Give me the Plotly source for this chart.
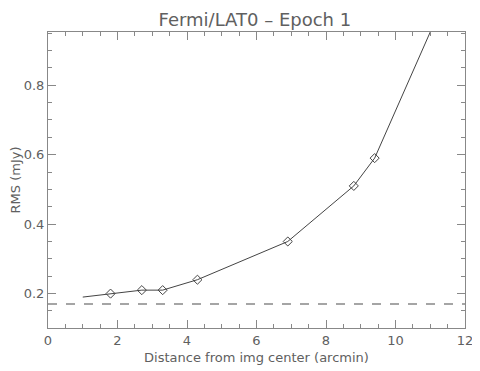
import plotly.graph_objects as go

# RMS vs distance from image centre
dist_line = [1.0, 1.8, 2.7, 3.3, 4.3, 6.9, 8.8, 9.4, 11.0]
rms_line = [0.19, 0.20, 0.21, 0.21, 0.24, 0.35, 0.51, 0.59, 0.953]
dist_pts = [1.8, 2.7, 3.3, 4.3, 6.9, 8.8, 9.4]
rms_pts = [0.20, 0.21, 0.21, 0.24, 0.35, 0.51, 0.59]
floor_x = [0, 12]
floor_y = [0.17, 0.17]

INK = '#606060'
FONT = 'DejaVu Sans'

fig = go.Figure()
fig.add_trace(go.Scatter(x=floor_x, y=floor_y, mode='lines',
                         line=dict(color='#888888', width=1.5, dash='dash')))
fig.add_trace(go.Scatter(x=dist_line, y=rms_line, mode='lines',
                         line=dict(color='#444444', width=1)))
fig.add_trace(go.Scatter(x=dist_pts, y=rms_pts, mode='markers',
                         marker=dict(symbol='diamond-open', size=7,
                                     color='#444444', line=dict(width=1))))

axis_common = dict(showgrid=False, zeroline=False, showline=True, mirror='allticks',
                   linecolor='#888888', linewidth=1, ticks='inside', ticklen=8,
                   tickcolor='#888888', automargin=False, ticklabeloverflow='allow',
                   tickfont=dict(family=FONT, size=13, color=INK))

fig.update_xaxes(range=[0, 12], dtick=2,
                 minor=dict(dtick=0.5, ticklen=4, ticks='inside', tickcolor='#888888'),
                 title=dict(text='Distance from img center (arcmin)', standoff=6,
                            font=dict(family=FONT, size=13, color=INK)),
                 **axis_common)
fig.update_yaxes(range=[0.101, 0.953], tickvals=[0.2, 0.4, 0.6, 0.8],
                 ticktext=['0.2', '0.4', '0.6', '0.8'],
                 minor=dict(dtick=0.05, ticklen=4, ticks='inside', tickcolor='#888888'),
                 title=dict(text='RMS (mJy)', standoff=6,
                            font=dict(family=FONT, size=13, color=INK)),
                 **axis_common)

# page body adds an 8px offset, so the figure is trimmed by that amount
fig.update_layout(
    width=472, height=363,
    margin=dict(l=40, r=15, t=24, b=43),
    paper_bgcolor='white', plot_bgcolor='white',
    showlegend=False,
    title=dict(text='Fermi/LAT0 \u2013 Epoch 1', x=0.523, xanchor='center',
               y=0.967, yanchor='middle',
               font=dict(family=FONT, size=18, color=INK)),
)

fig.write_html('out.html')
